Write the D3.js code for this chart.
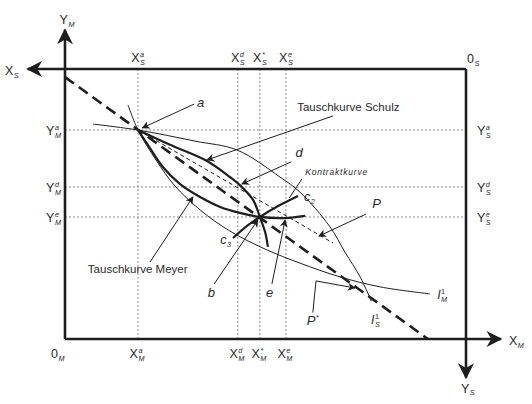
<!DOCTYPE html>
<html><head><meta charset="utf-8">
<script src="https://cdn.jsdelivr.net/npm/d3@7"></script>
<style>
html,body{margin:0;padding:0;background:#fff;}
text{font-family:"Liberation Sans",Arial,Helvetica,sans-serif;fill:#2a2a2a;}
</style></head>
<body><svg id="c" width="532" height="404"></svg>
<script>
// ---- data (box units: Meyer's X 0..100 left→right, Meyer's Y 0..100 bottom→top) ----
const xTickNames = ["a", "d", "*", "e"];
const xTickValues = [18.2, 43.1, 48.6, 55.1];
const yTickNames = ["a", "d", "e"];
const yTickValues = [77.4, 56.3, 45.2];
const pointA = [18.2, 77.4];
const pointEq = [48.6, 45.2];
const priceLineStar = [[0, 97.0], [90.5, 0]];          // P*
const priceLineP = [[18.2, 77.4], [66.8, 35.6]];         // P
const indiffS = [[7.0, 79.6], [18.2, 77.4], [32.4, 73.3], [42.9, 70.0], [53.6, 60.0], [58.6, 54.4], [66.1, 41.5], [69.8, 32.2], [73.6, 23.0], [76.4, 14.0]];
const indiffM = [[15.7, 86.7], [18.2, 77.4], [22.7, 66.3], [27.4, 56.7], [33.7, 47.8], [41.1, 40.0], [49.9, 33.3], [58.6, 28.1], [68.6, 23.0], [78.6, 19.3], [91.0, 16.7]];
const offerSchulz = [[18.2, 77.4], [26.2, 71.9], [35.4, 65.9], [41.1, 60.0], [43.6, 57.0], [46.9, 51.5], [48.6, 45.2], [49.9, 39.6], [50.6, 34.1]];
const offerMeyer = [[18.2, 77.4], [21.2, 70.7], [24.4, 63.7], [28.7, 57.4], [33.7, 52.6], [38.7, 48.9], [43.6, 46.7], [48.6, 45.2], [54.9, 44.8], [59.9, 45.6]];
const contractCurve = [[41.9, 37.4], [45.4, 41.9], [48.6, 45.2], [53.6, 49.6], [58.1, 53.0]];

const W = 532, H = 404;
const svg = d3.select("#c");
const x = d3.scaleLinear().domain([0, 100]).range([65, 466]);
const y = d3.scaleLinear().domain([0, 100]).range([339, 69]);
const ink = "#1e1e1e";

// arrow markers
const defs = svg.append("defs");
function marker(id, size) {
  defs.append("marker").attr("id", id).attr("viewBox", "0 0 10 10")
    .attr("refX", 9).attr("refY", 5).attr("markerWidth", size).attr("markerHeight", size)
    .attr("markerUnits", "userSpaceOnUse").attr("orient", "auto")
    .append("path").attr("d", "M0,0 L10,5 L0,10 L3,5 z").attr("fill", ink);
}
marker("big", 16);
marker("small", 8);

// dotted guide lines
const guides = svg.append("g").attr("stroke", "#8a8a8a").attr("stroke-width", 1).attr("stroke-dasharray", "2,2");
xTickValues.forEach(v => guides.append("line").attr("x1", x(v)).attr("x2", x(v)).attr("y1", y(100)).attr("y2", y(0)));
yTickValues.forEach(v => guides.append("line").attr("y1", y(v)).attr("y2", y(v)).attr("x1", x(0)).attr("x2", x(100)));

// axes / box
const ax = svg.append("g").attr("stroke", ink).attr("stroke-width", 2.6).attr("fill", "none");
ax.append("line").attr("x1", x(0)).attr("y1", y(0)).attr("x2", x(0)).attr("y2", y(114.5)).attr("marker-end", "url(#big)");
ax.append("line").attr("x1", x(0)).attr("y1", y(0)).attr("x2", x(108.7)).attr("y2", y(0)).attr("marker-end", "url(#big)");
ax.append("line").attr("x1", x(100)).attr("y1", y(100)).attr("x2", x(-9.3)).attr("y2", y(100)).attr("marker-end", "url(#big)");
ax.append("line").attr("x1", x(100)).attr("y1", y(100)).attr("x2", x(100)).attr("y2", y(-14.3)).attr("marker-end", "url(#big)");

const line = d3.line().x(d => x(d[0])).y(d => y(d[1])).curve(d3.curveCatmullRom.alpha(0.5));
const straight = d3.line().x(d => x(d[0])).y(d => y(d[1]));

// price lines
svg.append("path").attr("d", straight(priceLineStar)).attr("stroke", ink).attr("stroke-width", 2.6)
  .attr("stroke-dasharray", "11,6").attr("fill", "none");
svg.append("path").attr("d", straight(priceLineP)).attr("stroke", ink).attr("stroke-width", 1)
  .attr("stroke-dasharray", "4,3").attr("fill", "none");

// indifference curves
[indiffS, indiffM].forEach(c => svg.append("path").attr("d", line(c)).attr("stroke", ink)
  .attr("stroke-width", 1).attr("fill", "none"));
// offer curves and contract curve
[offerSchulz, offerMeyer, contractCurve].forEach(c => svg.append("path").attr("d", line(c)).attr("stroke", ink)
  .attr("stroke-width", 2.2).attr("fill", "none"));

// ---- labels ----
function lab(px, py, base, sub, sup, opts) {
  opts = opts || {};
  const fs = opts.fs || 12.5, italic = opts.italic, anchor = opts.anchor || "start";
  const g = svg.append("g");
  const t = g.append("text").attr("x", 0).attr("y", 0).attr("font-size", fs)
    .attr("font-style", italic ? "italic" : "normal").text(base);
  const w = t.node().getComputedTextLength();
  let w2 = 0;
  if (sup) { const s = g.append("text").attr("x", w + 0.5).attr("y", -fs * 0.42).attr("font-size", fs * 0.58).attr("font-style", opts.supItalic ? "italic" : "normal").text(sup); w2 = Math.max(w2, s.node().getComputedTextLength()); }
  if (sub) { const s = g.append("text").attr("x", w + 0.5).attr("y", fs * 0.22).attr("font-size", fs * 0.58).attr("font-style", "italic").text(sub); w2 = Math.max(w2, s.node().getComputedTextLength()); }
  const total = w + 0.5 + w2;
  let ox = px;
  if (anchor === "middle") ox = px - total / 2;
  if (anchor === "end") ox = px - total;
  g.attr("transform", `translate(${ox},${py})`);
  return g;
}
// tick labels
xTickValues.forEach((v, i) => {
  lab(x(v), y(100) - 7, "X", "S", xTickNames[i], {anchor: "middle", supItalic: true});
  lab(x(v) - 1, y(0) + 19, "X", "M", xTickNames[i], {anchor: "middle", supItalic: true});
});
yTickValues.forEach((v, i) => {
  lab(x(0) - 4, y(v) + 5, "Y", "M", yTickNames[i], {anchor: "end", supItalic: true});
  lab(x(100) + 11, y(v) + 5, "Y", "S", yTickNames[i], {supItalic: true});
});
// axis names
lab(x(0) + 2, y(114.5) - 6, "Y", "M", null, {anchor: "middle"});
lab(x(-9.3) - 9, y(100) + 6, "X", "S", null, {anchor: "end"});
lab(x(100) + 1, y(100) - 6, "0", "S", null);
lab(x(0) - 14, y(0) + 19, "0", "M", null);
lab(x(108.7) + 8, y(0) + 6, "X", "M", null);
lab(x(100) - 5, y(-14.3) + 15, "Y", "S", null);

// annotation pointers (box units): [from, to, arrow]
const pointers = [
  [[32.2, 87.0], [19.3, 78.2], true],     // a
  [[66.8, 82.6], [35.4, 66.3], true],     // Tauschkurve Schulz
  [[56.4, 65.6], [44.1, 57.4], true],     // d
  [[59.1, 59.3], [55.9, 52.2], false],    // Kontraktkurve
  [[75.1, 46.3], [63.3, 38.1], true],     // P
  [[21.2, 28.5], [31.9, 52.6], true],     // Tauschkurve Meyer
  [[37.2, 20.4], [48.1, 44.1], true],     // b
  [[51.6, 20.4], [54.9, 44.1], true],     // e
  [[61.8, 9.8], [62.6, 21.5], false],     // P* stem
  [[62.6, 21.5], [72.3, 18.9], true]      // P* arrow
];
pointers.forEach(p => svg.append("line")
  .attr("x1", x(p[0][0])).attr("y1", y(p[0][1])).attr("x2", x(p[1][0])).attr("y2", y(p[1][1]))
  .attr("stroke", ink).attr("stroke-width", 1).attr("marker-end", p[2] ? "url(#small)" : null));

lab(x(32.9), y(87.4) + 4, "a", null, null, {italic: true, fs: 13});
svg.append("text").attr("x", x(57.9)).attr("y", y(84.5)).attr("font-size", 11.5).text("Tauschkurve Schulz");
lab(x(57.5), y(67.4), "d", null, null, {italic: true, fs: 13});
svg.append("text").attr("x", x(59.9)).attr("y", y(60.8)).attr("font-size", 8.5).attr("font-style", "italic")
  .attr("font-family", "DejaVu Sans Condensed, DejaVu Sans").attr("textLength", 62).text("Kontraktkurve");
lab(x(59.6), y(52.2) + 3, "c", "2", null, {italic: true, fs: 12.5});
lab(x(38.7), y(36.3) + 3, "c", "3", null, {italic: true, fs: 12.5});
lab(x(76.6), y(48.5), "P", null, null, {italic: true, fs: 13});
svg.append("text").attr("x", x(5.7)).attr("y", y(24.5)).attr("font-size", 11.5).text("Tauschkurve Meyer");
lab(x(35.6), y(15.6), "b", null, null, {italic: true, fs: 13});
lab(x(50.1), y(15.6), "e", null, null, {italic: true, fs: 13});
lab(x(60.3), y(5.2), "P", null, "*", {italic: true, fs: 13});
lab(x(92.8), y(14.8), "I", "M", "1", {italic: true, fs: 12.5});
lab(x(76.3), y(5.6), "I", "S", "1", {italic: true, fs: 12.5});
</script></body></html>
